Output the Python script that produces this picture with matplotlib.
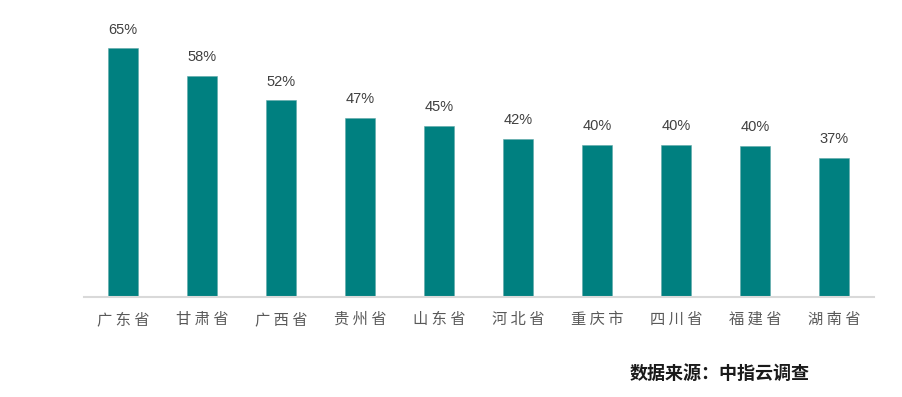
import matplotlib
matplotlib.use("Agg")
import matplotlib.pyplot as plt

provinces = ["广东省", "甘肃省", "广西省", "贵州省", "山东省", "河北省", "重庆市", "四川省", "福建省", "湖南省"]
values = [65.2, 58.1, 51.6, 47.0, 44.8, 41.5, 39.8, 39.8, 39.6, 36.6]
labels = ["65%", "58%", "52%", "47%", "45%", "42%", "40%", "40%", "40%", "37%"]
source = "数据来源：中指云调查"

plt.rcParams['font.family'] = ['Noto Sans CJK SC', 'DejaVu Sans']

fig = plt.figure(figsize=(9.02, 3.97), dpi=100)
ax = fig.add_axes([83.5/902, 1-297/397, 790/902, 287/397])
x = list(range(len(provinces)))
ax.bar(x, values, width=0.39, color="#008080", edgecolor="#5fa8a8", linewidth=0.4)
ax.set_xlim(-0.5, len(provinces)-0.5)
ax.set_ylim(0, 75.3)
for xi, v, lab in zip(x, values, labels):
    ax.annotate(lab, (xi, v), xytext=(0, 8.5), textcoords="offset points",
                ha="center", va="bottom", fontsize=10.5, color="#404040",
                family=['Liberation Sans', 'DejaVu Sans'])
ax.set_xticks(x)
ax.set_xticklabels([" ".join(p) for p in provinces], fontsize=11, color="#595959")
ax.tick_params(axis="x", length=0, pad=10)
ax.set_yticks([])
for s in ["left", "right", "top"]:
    ax.spines[s].set_visible(False)
ax.spines["bottom"].set_color("#d9d9d9")
ax.spines["bottom"].set_linewidth(1.5)

fig.text(720/902, 1-373/397, source, ha="center", va="center", fontsize=13,
         color="#1a1a1a", fontweight="bold")
fig.savefig("out.png", dpi=100)
